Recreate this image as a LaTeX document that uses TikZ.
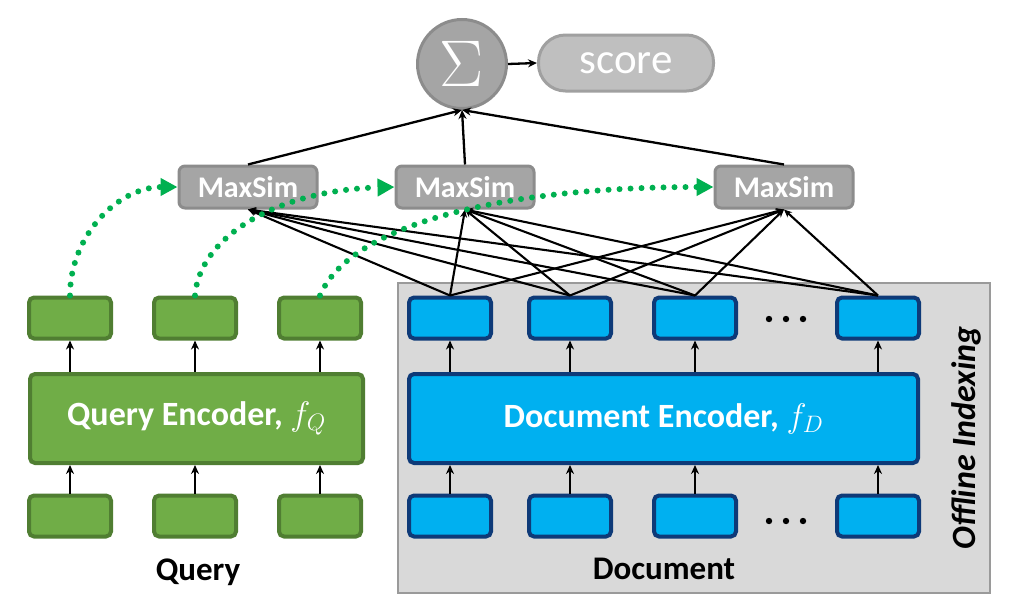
\RequirePackage{fix-cm}
\documentclass[tikz,border=0pt]{standalone}
\usepackage{fontspec}
\setmainfont{Carlito}
\usetikzlibrary{arrows.meta}
\definecolor{qfill}{HTML}{70AD47}
\definecolor{qborder}{HTML}{507E32}
\definecolor{dfill}{HTML}{00B0F0}
\definecolor{dborder}{HTML}{0E3A78}
\definecolor{msfill}{HTML}{A5A5A5}
\definecolor{msborder}{HTML}{8C8C8C}
\definecolor{scfill}{HTML}{BFBFBF}
\definecolor{scborder}{HTML}{A0A0A0}
\definecolor{panelfill}{HTML}{D9D9D9}
\definecolor{panelborder}{HTML}{9A9A9A}
\definecolor{dotgreen}{HTML}{00B050}
\begin{document}
\begin{tikzpicture}[x=1pt,y=-1pt,
  qbox/.style={draw=qborder, fill=qfill, line width=4pt, rounded corners=5pt, minimum width=82pt, minimum height=41pt, inner sep=0pt},
  dbox/.style={draw=dborder, fill=dfill, line width=4pt, rounded corners=5pt, minimum width=82pt, minimum height=41pt, inner sep=0pt},
  qenc/.style={qbox, minimum width=333pt, minimum height=89pt, text=white, font=\fontsize{34}{40}\selectfont\bfseries},
  denc/.style={dbox, minimum width=509pt, minimum height=89pt, text=white, font=\fontsize{34}{40}\selectfont\bfseries},
  msim/.style={draw=msborder, fill=msfill, line width=3pt, rounded corners=6pt, minimum width=138pt, minimum height=42pt, inner sep=0pt, text=white, font=\fontsize{30}{33}\selectfont\bfseries},
  arr/.style={draw=black, line width=2.3pt, -{Stealth[length=9pt,width=8pt]}},
  thinarr/.style={draw=black, line width=2.1pt, -{Stealth[length=8pt,width=7pt]}},
  gdot/.style={draw=dotgreen, line width=6pt, line cap=round, dash pattern=on 0pt off 11pt, -{Triangle[length=17pt,width=17pt]}},
  label/.style={font=\fontsize{33}{36}\selectfont\bfseries, text=black, inner sep=0pt}
]
\useasboundingbox (0,0) rectangle (1024,605);

% offline indexing panel
\node[draw=panelborder, fill=panelfill, line width=2pt, minimum width=592pt, minimum height=310pt, inner sep=0pt] (panel) at (693.5,437.5) {};

% sigma and score
\node[circle, draw=msborder, fill=msfill, line width=3pt, minimum size=89pt, inner sep=0pt, text=white, font=\fontsize{66}{70}\selectfont] (sig) at (462,64) {$\Sigma$};
\node[draw=scborder, fill=scfill, line width=3pt, rounded corners=27pt, minimum width=175pt, minimum height=56pt, inner sep=0pt, text=white, font=\fontsize{43}{46}\selectfont] (score) at (626,63) {score};

% MaxSim
\node[msim] (m1) at (248,187) {MaxSim};
\node[msim] (m2) at (465,187) {MaxSim};
\node[msim] (m3) at (784,187) {MaxSim};

% query side
\node[qenc] (qenc) at (196.5,418.5) {Query Encoder, $f_Q$};
\foreach \i/\x in {1/70,2/195,3/320}{
  \node[qbox] (qout\i) at (\x,318) {};
  \node[qbox] (qin\i) at (\x,516) {};
  \draw[arr] (qin\i.north) -- (qin\i.north |- qenc.south);
  \draw[arr] (qout\i.south |- qenc.north) -- (qout\i.south);
}
\node[label] (qlabel) at (198,572) {Query};

% document side
\node[denc] (denc) at (663.5,418.5) {Document Encoder, $f_D$};
\foreach \i/\x in {1/450,2/570,3/695,4/878}{
  \node[dbox] (dout\i) at (\x,318) {};
  \node[dbox] (din\i) at (\x,516) {};
  \draw[arr] (din\i.north) -- (din\i.north |- denc.south);
  \draw[arr] (dout\i.south |- denc.north) -- (dout\i.south);
}
\node[label] (dlabel) at (664,569) {Document};
\node[label, rotate=90, font=\fontsize{34}{38}\selectfont\bfseries\itshape] (offline) at (966,438) {Offline Indexing};

% ellipsis dots
\foreach \y in {319,521}{
  \foreach \x in {769,786,803}{
    \fill[black] (\x,\y) circle (3.2pt);
  }
}

% doc tokens to MaxSim
\foreach \d in {1,2,3,4}{
  \foreach \m in {1,2,3}{
    \draw[thinarr] (dout\d.north) -- (m\m.south);
  }
}

% MaxSim to sum
\foreach \m in {1,2,3}{
  \draw[arr] (m\m.north) -- (sig.south);
}
\draw[arr] (sig.east) -- (score.west);

% green dotted curves
\draw[gdot] (qout1.north) to[out=90,in=180] (m1.west);
\draw[gdot] (qout2.north) .. controls (200,235) and (280,190) .. (m2.west);
\draw[gdot] (qout3.north) .. controls (350,225) and (500,187) .. (m3.west);
\end{tikzpicture}
\end{document}
